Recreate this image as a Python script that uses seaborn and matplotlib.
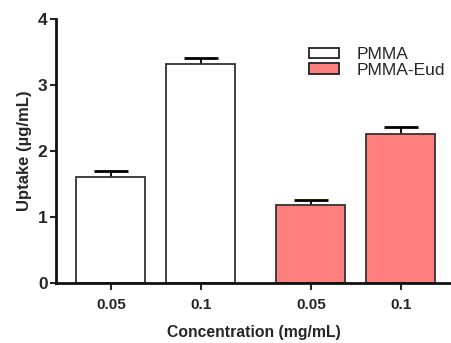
import matplotlib
matplotlib.use("Agg")
import matplotlib.pyplot as plt
import seaborn as sns
import pandas as pd

# values
groups = ["PMMA", "PMMA", "PMMA-Eud", "PMMA-Eud"]
tick_labels = ["0.05", "0.1", "0.05", "0.1"]
uptake = [1.60, 3.32, 1.18, 2.26]
sem = [0.09, 0.08, 0.07, 0.10]
positions = [0.0, 1.0, 2.222, 3.222]

df = pd.DataFrame({"pos": positions, "uptake": uptake, "group": groups})

sns.set_style("ticks")
plt.rcParams["font.family"] = ["Liberation Sans", "DejaVu Sans"]

fig = plt.figure(figsize=(4.51, 3.43), dpi=100)
ax = fig.add_axes([0.124, 0.175, 0.876, 0.770])

sns.barplot(data=df, x="pos", y="uptake", hue="group", native_scale=True,
            dodge=False, width=0.767, saturation=1,
            palette={"PMMA": "white", "PMMA-Eud": "#FF7F7F"},
            edgecolor="#333333", linewidth=1.3, ax=ax)

# upper error bars only
eb = ax.errorbar(positions, uptake, yerr=[[0] * 4, sem], fmt="none",
                 ecolor="black", elinewidth=1.3, capsize=12.5, capthick=2, zorder=0.5)
eb[1][0].set_visible(False)

ax.set_xlim(-0.611, 3.78)
ax.set_ylim(0, 4)
ax.set_yticks([0, 1, 2, 3, 4])
ax.set_yticklabels(["0", "1", "2", "3", "4"], fontsize=12.5, fontweight="bold")
ax.set_xticks(positions)
ax.set_xticklabels(tick_labels, fontsize=11, fontweight="bold")
ax.tick_params(axis="y", length=4, width=1.5, pad=2)
ax.tick_params(axis="x", length=5, width=1.5, pad=6)

ax.set_xlabel("Concentration (mg/mL)", fontsize=11.3, fontweight="bold", labelpad=9)
ax.set_ylabel("Uptake (µg/mL)", fontsize=12, fontweight="bold", labelpad=4)

sns.despine(ax=ax)
for s in ["left", "bottom"]:
    ax.spines[s].set_linewidth(2)
    ax.spines[s].set_color("#111111")

leg = ax.legend(loc="upper left", bbox_to_anchor=(0.6, 0.953), frameon=False,
                fontsize=12.5, handlelength=1.75, handleheight=0.55,
                labelspacing=0.05, handletextpad=1.0)
for h in leg.legend_handles:
    h.set_edgecolor("#222222")
    h.set_linewidth(1.3)

fig.savefig("out.png", dpi=100)
